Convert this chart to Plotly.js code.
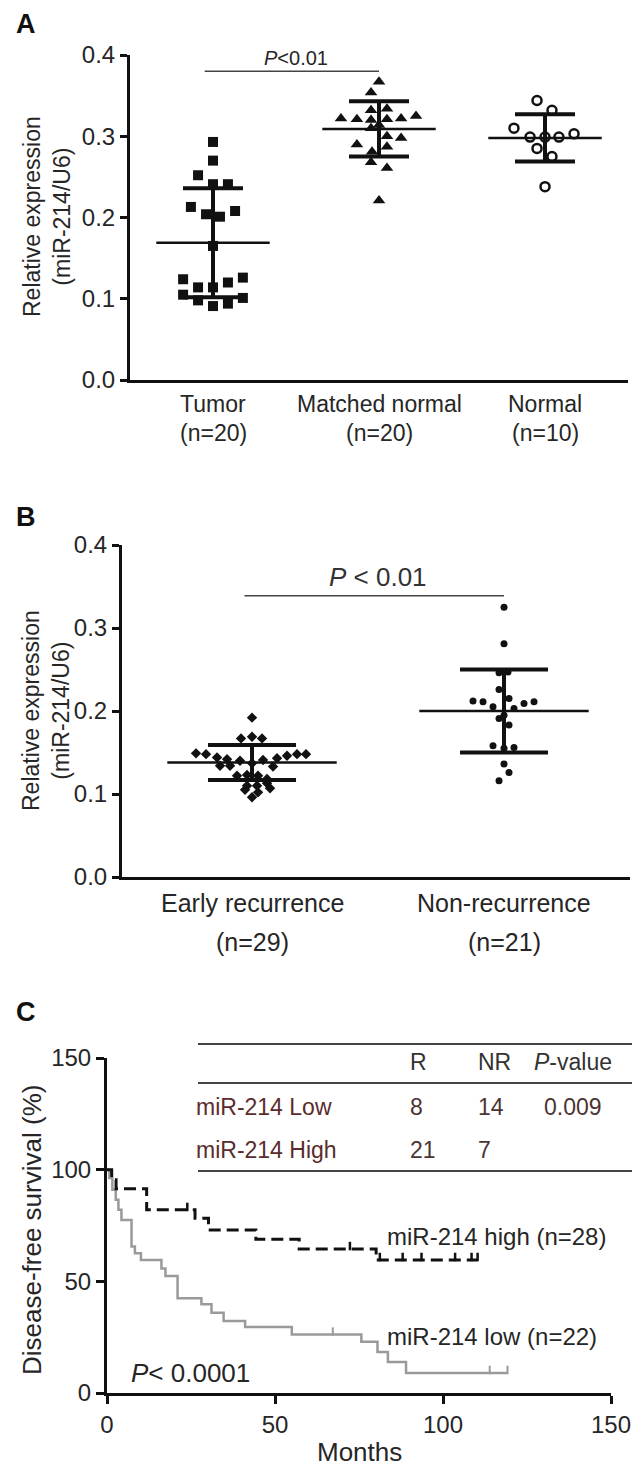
<!DOCTYPE html>
<html>
<head>
<meta charset="utf-8">
<script src="https://cdn.plot.ly/plotly-3.0.1.min.js"></script>
<style>
html,body{margin:0;padding:0;background:#fff;}
#chart{width:636px;height:1469px;}
</style>
</head>
<body>
<div id="chart"></div>
<script>
// ---------- Panel A data ----------
const catsA = ['Tumor', 'Matched normal', 'Normal'];
const nA = ['(n=20)', '(n=20)', '(n=10)'];
const tumorVals = [0.293, 0.270, 0.252, 0.241, 0.241, 0.213, 0.204, 0.201, 0.208, 0.165,
                   0.124, 0.126, 0.114, 0.114, 0.120, 0.105, 0.101, 0.098, 0.091, 0.094];
const matchedVals = [0.367, 0.354, 0.332, 0.334, 0.322, 0.321, 0.320, 0.321, 0.322, 0.325,
                     0.310, 0.314, 0.300, 0.298, 0.290, 0.287, 0.281, 0.268, 0.261, 0.221];
const normalVals = [0.344, 0.332, 0.310, 0.299, 0.299, 0.299, 0.303, 0.285, 0.275, 0.238];
const meansA = [0.169, 0.309, 0.298];
const sdA = [0.067, 0.034, 0.029];
const pTextA = '<i>P</i>&lt;0.01';
const pLevelA = 0.38;

// ---------- Panel B data ----------
const catsB = ['Early recurrence', 'Non-recurrence'];
const nB = ['(n=29)', '(n=21)'];
const earlyVals = [0.192, 0.167, 0.169, 0.167, 0.149, 0.148, 0.144, 0.142, 0.134, 0.134,
                   0.140, 0.137, 0.141, 0.133, 0.143, 0.146, 0.148, 0.148, 0.122, 0.123,
                   0.122, 0.118, 0.110, 0.110, 0.113, 0.105, 0.102, 0.096, 0.107];
const nonRecVals = [0.325, 0.281, 0.246, 0.247, 0.226, 0.215, 0.212, 0.211, 0.205, 0.203,
                    0.209, 0.211, 0.191, 0.183, 0.158, 0.156, 0.136, 0.126, 0.116, 0.155, 0.195];
const meansB = [0.138, 0.200];
const sdB = [0.021, 0.050];
const pTextB = '<i>P</i> &lt; 0.01';
const pLevelB = 0.339;

// ---------- Panel C data ----------
const highMonths = [0, 1.4, 2.7, 11.8, 26.2, 30.2, 44.3, 57.2, 80.1, 110.3];
const highSurv   = [100, 95.5, 91.5, 82.0, 78.2, 73.0, 68.8, 64.5, 59.6, 59.6];
const highCensorMonths = [23.9, 72.3, 81.2, 88.0, 93.6, 103.6, 108.5, 110.3];
const highCensorSurv   = [82.0, 64.5, 59.6, 59.6, 59.6, 59.6, 59.6, 59.6];
const lowMonths = [0, 0.7, 1.6, 2.6, 3.4, 4.3, 7.3, 8.3, 10.1, 16.2, 17.4, 21.0, 28.1,
                   31.1, 34.7, 41.1, 55.0, 75.7, 80.5, 83.6, 89.0, 119.2];
const lowSurv   = [100, 96.3, 91.0, 86.5, 82.0, 77.5, 65.6, 62.6, 59.6, 55.8, 52.4, 42.4, 39.7,
                   35.9, 32.2, 29.6, 26.2, 22.9, 18.4, 13.9, 9.0, 9.0];
const lowCensorMonths = [67.2, 113.9, 119.2];
const lowCensorSurv   = [26.2, 9.0, 9.0];
const tableHeader = ['R', 'NR', '<i>P</i>-value'];
const tableRows = ['miR-214 Low', 'miR-214 High'];
const tableR = ['8', '21'];
const tableNR = ['14', '7'];
const tableP = ['0.009', ''];
const curveLabels = ['miR-214 high (n=28)', 'miR-214 low (n=22)'];
const pTextC = '<i>P</i>&lt; 0.0001';

// ---------- jitter offsets ----------
const tumorOff = [0,0,-0.09,0,0.09,-0.133,-0.042,0.042,0.133,0,-0.18,0.18,-0.09,0,0.09,-0.18,0.18,-0.09,0,0.09];
const matchedOff = [0,-0.048,-0.048,0.048,-0.229,-0.133,-0.048,0.048,0.133,0.223,-0.048,0,0.048,0.133,-0.133,0.048,-0.042,-0.048,0.048,0];
const normalOff = [-0.048,0.042,-0.187,-0.09,0,0.084,0.175,-0.048,0.042,0];
const earlyOffPx = [0,-11,0,10,-56,-46,-35,-25,-32,-22,-12,0,11,21,25,35,45,54,-15,-5,6,15,-5,5,15,-7,6,0,18];
const nonRecOffPx = [0,0,-5,4,-5,5,-31,-21,-11,10,20,30,-5,5,-11,10,0,5,-5,0,0];

// ---------- helpers ----------
const W = 636, H = 1469;
const fx = p => p / W;
const fy = p => 1 - p / H;
const FONT = 'Arial, "Liberation Sans", sans-serif';
const INK = '#111';
const TXT = '#262626';

function pts(cat, vals, offs, symbol, size, open, xa, ya) {
  return {
    x: vals.map((v, i) => cat + offs[i]), y: vals, xaxis: xa, yaxis: ya,
    type: 'scatter', mode: 'markers', hoverinfo: 'skip', cliponaxis: false,
    marker: open ? {symbol: symbol, size: size, color: 'rgba(0,0,0,0)', line: {color: INK, width: 2.5}}
                 : {symbol: symbol, size: size, color: INK, line: {width: 0}}
  };
}
function meanTrace(means, sds, lineSize, capW, xa, ya) {
  return {
    x: means.map((m, i) => i), y: means, xaxis: xa, yaxis: ya,
    type: 'scatter', mode: 'markers', hoverinfo: 'skip', cliponaxis: false,
    marker: {symbol: 'line-ew', size: lineSize, color: INK, line: {color: INK, width: 2.5}},
    error_y: {type: 'data', array: sds, visible: true, thickness: 4, width: capW, color: INK}
  };
}
function censor(xs, ys, color, w) {
  return {x: xs, y: ys, xaxis: 'x3', yaxis: 'y3', type: 'scatter', mode: 'markers',
    marker: {size: 1, color: 'rgba(0,0,0,0)'}, hoverinfo: 'skip', cliponaxis: false,
    error_y: {type: 'data', symmetric: false, array: xs.map(() => 3.2), arrayminus: xs.map(() => 0.6),
              width: 0, thickness: w, color: color}};
}

const traces = [
  pts(0, tumorVals, tumorOff, 'square', 10, false, 'x', 'y'),
  pts(1, matchedVals, matchedOff, 'triangle-up', 11, false, 'x', 'y'),
  pts(2, normalVals, normalOff, 'circle', 9, true, 'x', 'y'),
  meanTrace(meansA, sdA, 81, 30, 'x', 'y'),
  pts(0, earlyVals, earlyOffPx.map(p => p / 252), 'diamond', 8, false, 'x2', 'y2'),
  pts(1, nonRecVals, nonRecOffPx.map(p => p / 252), 'circle', 7, false, 'x2', 'y2'),
  meanTrace(meansB, sdB, 121, 44, 'x2', 'y2'),
  {x: lowMonths, y: lowSurv, xaxis: 'x3', yaxis: 'y3', type: 'scatter', mode: 'lines',
   line: {shape: 'hv', color: '#9a9a9a', width: 2.5}, hoverinfo: 'skip'},
  censor(lowCensorMonths, lowCensorSurv, '#9a9a9a', 2),
  {x: highMonths, y: highSurv, xaxis: 'x3', yaxis: 'y3', type: 'scatter', mode: 'lines',
   line: {shape: 'hv', color: INK, width: 3, dash: '12px,6px'}, hoverinfo: 'skip'},
  censor(highCensorMonths, highCensorSurv, INK, 2.5)
];

const yTick = {ticks: 'outside', ticklen: 7, tickwidth: 3, tickcolor: INK, showline: true, linewidth: 3,
  linecolor: INK, showgrid: false, zeroline: false, tickfont: {family: FONT, size: 24, color: TXT}, fixedrange: true};
const xCat = {showline: true, linewidth: 3, linecolor: INK, ticks: '', showticklabels: false,
  showgrid: false, zeroline: false, fixedrange: true};

const annotations = [];
function ann(o) { annotations.push(Object.assign({showarrow: false}, o)); }
const f = (s, c) => ({family: FONT, size: s, color: c || TXT});

// panel letters
ann({text: '<b>A</b>', xref: 'paper', yref: 'paper', x: fx(14), y: fy(24), xanchor: 'left', yanchor: 'middle', font: f(27, '#111')});
ann({text: '<b>B</b>', xref: 'paper', yref: 'paper', x: fx(14), y: fy(517), xanchor: 'left', yanchor: 'middle', font: f(27, '#111')});
ann({text: '<b>C</b>', xref: 'paper', yref: 'paper', x: fx(14), y: fy(1012), xanchor: 'left', yanchor: 'middle', font: f(27, '#111')});

// y titles
ann({text: 'Relative expression<br>(miR-214/U6)', xref: 'paper', yref: 'paper', x: fx(47), y: fy(217), textangle: -90, xanchor: 'center', yanchor: 'middle', font: f(23)});
ann({text: 'Relative expression<br>(miR-214/U6)', xref: 'paper', yref: 'paper', x: fx(46), y: fy(711), textangle: -90, xanchor: 'center', yanchor: 'middle', font: f(23)});
ann({text: 'Disease-free survival (%)', xref: 'paper', yref: 'paper', x: fx(32), y: fy(1230), textangle: -90, xanchor: 'center', yanchor: 'middle', font: f(26)});
ann({text: 'Months', xref: 'paper', yref: 'paper', x: fx(359), y: fy(1452), xanchor: 'center', yanchor: 'middle', font: f(26)});

// category labels
catsA.forEach((c, i) => {
  ann({text: c, xref: 'x', yref: 'paper', x: i, y: fy(404), xanchor: 'center', yanchor: 'middle', font: f(23)});
  ann({text: nA[i], xref: 'x', yref: 'paper', x: i, y: fy(433), xanchor: 'center', yanchor: 'middle', font: f(23)});
});
catsB.forEach((c, i) => {
  ann({text: c, xref: 'x2', yref: 'paper', x: i, y: fy(903), xanchor: 'center', yanchor: 'middle', font: f(25)});
  ann({text: nB[i], xref: 'x2', yref: 'paper', x: i, y: fy(942), xanchor: 'center', yanchor: 'middle', font: f(25)});
});

// p-values
ann({text: pTextA, xref: 'x', yref: 'y', x: 0.5, y: pLevelA, xanchor: 'center', yanchor: 'bottom', yshift: 0, font: f(20)});
ann({text: pTextB, xref: 'x2', yref: 'y2', x: 0.5, y: pLevelB, xanchor: 'center', yanchor: 'bottom', yshift: 2, font: f(26, '#333')});
ann({text: pTextC, xref: 'paper', yref: 'paper', x: fx(129), y: fy(1373), xanchor: 'left', yanchor: 'middle', font: f(26)});

// curve labels
ann({text: curveLabels[0], xref: 'paper', yref: 'paper', x: fx(385), y: fy(1236), xanchor: 'left', yanchor: 'middle', font: f(24)});
ann({text: curveLabels[1], xref: 'paper', yref: 'paper', x: fx(385), y: fy(1336), xanchor: 'left', yanchor: 'middle', font: f(24)});

// table
const colX = [408, 476, 532];
tableHeader.forEach((t, i) => ann({text: t, xref: 'paper', yref: 'paper', x: fx(colX[i]), y: fy(1062), xanchor: 'left', yanchor: 'middle', font: f(23, '#333')}));
tableRows.forEach((r, i) => {
  const yy = fy(i === 0 ? 1107 : 1150);
  ann({text: r, xref: 'paper', yref: 'paper', x: fx(194), y: yy, xanchor: 'left', yanchor: 'middle', font: f(23, '#5a2c2c')});
  ann({text: tableR[i], xref: 'paper', yref: 'paper', x: fx(colX[0]), y: yy, xanchor: 'left', yanchor: 'middle', font: f(23, '#4a3434')});
  ann({text: tableNR[i], xref: 'paper', yref: 'paper', x: fx(colX[1]), y: yy, xanchor: 'left', yanchor: 'middle', font: f(23, '#4a3434')});
  if (tableP[i]) ann({text: tableP[i], xref: 'paper', yref: 'paper', x: fx(542), y: yy, xanchor: 'left', yanchor: 'middle', font: f(23, '#4a3434')});
});

const shapes = [
  {type: 'line', xref: 'x', yref: 'y', x0: -0.05, x1: 1, y0: pLevelA, y1: pLevelA, line: {color: '#444', width: 1.5}},
  {type: 'line', xref: 'x2', yref: 'y2', x0: -0.03, x1: 1, y0: pLevelB, y1: pLevelB, line: {color: '#444', width: 1.5}},
  {type: 'line', xref: 'paper', yref: 'paper', x0: fx(198), x1: fx(632), y0: fy(1044), y1: fy(1044), line: {color: '#444', width: 1.8}},
  {type: 'line', xref: 'paper', yref: 'paper', x0: fx(198), x1: fx(632), y0: fy(1083), y1: fy(1083), line: {color: '#444', width: 1.8}},
  {type: 'line', xref: 'paper', yref: 'paper', x0: fx(198), x1: fx(632), y0: fy(1171), y1: fy(1171), line: {color: '#444', width: 1.8}}
];

const layout = {
  width: W, height: H, margin: {l: 0, r: 0, t: 0, b: 0},
  paper_bgcolor: '#fff', plot_bgcolor: 'rgba(0,0,0,0)', showlegend: false,
  font: {family: FONT, color: TXT},
  xaxis: Object.assign({}, xCat, {domain: [fx(130), fx(628)], range: [-0.5, 2.5], anchor: 'y'}),
  yaxis: Object.assign({}, yTick, {domain: [fy(380), fy(55)], range: [0, 0.4], anchor: 'x',
    tickvals: [0, 0.1, 0.2, 0.3, 0.4], ticktext: ['0.0', '0.1', '0.2', '0.3', '0.4']}),
  xaxis2: Object.assign({}, xCat, {domain: [fx(122), fx(630)], range: [-0.516, 1.5], anchor: 'y2'}),
  yaxis2: Object.assign({}, yTick, {domain: [fy(877), fy(545)], range: [0, 0.4], anchor: 'x2',
    tickvals: [0, 0.1, 0.2, 0.3, 0.4], ticktext: ['0.0', '0.1', '0.2', '0.3', '0.4']}),
  xaxis3: Object.assign({}, yTick, {domain: [fx(107), fx(611)], range: [0, 150], anchor: 'y3',
    tickvals: [0, 50, 100, 150], ticklen: 8, tickfont: f(24)}),
  yaxis3: Object.assign({}, yTick, {domain: [fy(1393), fy(1058)], range: [0, 150], anchor: 'x3',
    tickvals: [0, 50, 100, 150], ticklen: 8, tickfont: f(24)}),
  annotations: annotations,
  shapes: shapes
};

Plotly.newPlot('chart', traces, layout, {staticPlot: true, displayModeBar: false});
</script>
</body>
</html>
